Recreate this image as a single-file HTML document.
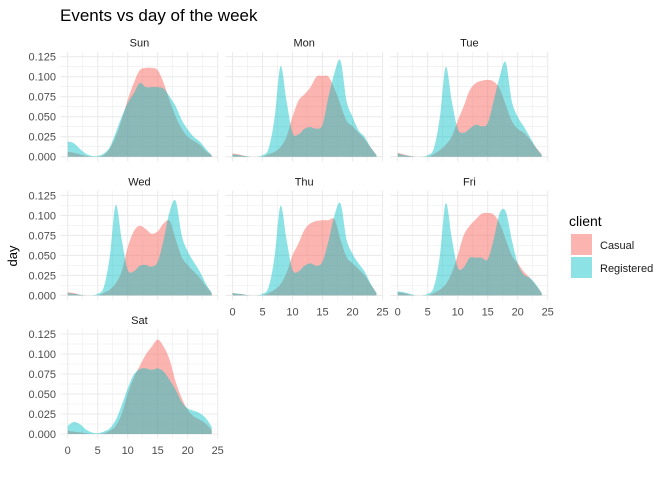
<!DOCTYPE html>
<html><head><meta charset="utf-8"><style>
body{margin:0;background:#fff;}
svg{display:block;font-family:"Liberation Sans",Arial,sans-serif;}
</style></head><body>
<svg id="c" width="672" height="480">
<text x="60" y="21" font-size="17" fill="#000">Events vs day of the week</text>
<text transform="translate(17,256) rotate(-90)" font-size="13" text-anchor="middle" fill="#000">day</text>
<g>
<text x="569" y="226" font-size="14" fill="#000">client</text>
<rect x="571" y="234" width="21" height="21" fill="rgba(248,118,109,0.55)"/>
<text x="600" y="249" font-size="11" fill="#1a1a1a">Casual</text>
<rect x="571" y="257" width="21" height="21" fill="rgba(0,191,196,0.45)"/>
<text x="600" y="272" font-size="11" fill="#1a1a1a">Registered</text>
</g>
</svg>
<script>
const days=["Sun","Mon","Tue","Wed","Thu","Fri","Sat"];
const hours=[0,1,2,3,4,5,6,7,8,9,10,11,12,13,14,15,16,17,18,19,20,21,22,23,24];
const yTicks=[0,0.025,0.05,0.075,0.1,0.125];
const yTickLabels=["0.000","0.025","0.050","0.075","0.100","0.125"];
const xTicks=[0,5,10,15,20,25];
const casualSun=[0.006,0.005,0.003,0.001,0,0,0.002,0.01,0.025,0.046,0.071,0.092,0.108,0.111,0.111,0.108,0.092,0.07,0.05,0.035,0.025,0.02,0.015,0.007,0.002];
const registeredSun=[0.019,0.017,0.01,0.004,0.001,0.001,0.004,0.012,0.03,0.05,0.067,0.079,0.092,0.087,0.087,0.087,0.085,0.075,0.063,0.046,0.034,0.025,0.019,0.01,0.002];
const casualMon=[0.004,0.003,0.001,0,0,0,0.003,0.006,0.012,0.025,0.05,0.07,0.078,0.087,0.1,0.101,0.1,0.085,0.065,0.045,0.038,0.03,0.022,0.012,0.002];
const registeredMon=[0.003,0.002,0.001,0,0,0.002,0.01,0.048,0.113,0.07,0.03,0.028,0.035,0.037,0.035,0.04,0.075,0.105,0.12,0.07,0.05,0.033,0.025,0.012,0.002];
const casualTue=[0.005,0.003,0.001,0,0,0,0.003,0.008,0.015,0.025,0.045,0.063,0.083,0.092,0.095,0.096,0.094,0.085,0.065,0.045,0.035,0.03,0.022,0.012,0.003];
const registeredTue=[0.004,0.002,0.001,0,0,0.002,0.01,0.048,0.112,0.07,0.035,0.03,0.035,0.04,0.038,0.042,0.07,0.1,0.118,0.07,0.05,0.038,0.025,0.012,0.002];
const casualWed=[0.004,0.003,0.001,0,0,0,0.003,0.007,0.015,0.03,0.06,0.08,0.087,0.083,0.077,0.08,0.09,0.093,0.07,0.048,0.038,0.03,0.022,0.012,0.003];
const registeredWed=[0.003,0.002,0.001,0,0,0.002,0.01,0.048,0.113,0.07,0.032,0.03,0.037,0.038,0.036,0.042,0.07,0.105,0.118,0.075,0.055,0.042,0.03,0.015,0.003];
const casualThu=[0.003,0.002,0.001,0,0,0,0.003,0.007,0.014,0.028,0.05,0.065,0.082,0.09,0.093,0.094,0.094,0.095,0.07,0.048,0.04,0.033,0.025,0.014,0.003];
const registeredThu=[0.003,0.002,0.001,0,0,0.002,0.01,0.048,0.112,0.07,0.032,0.03,0.037,0.04,0.037,0.042,0.068,0.1,0.115,0.07,0.052,0.04,0.03,0.015,0.003];
const casualFri=[0.004,0.003,0.001,0,0,0,0.003,0.007,0.014,0.028,0.05,0.075,0.087,0.095,0.102,0.103,0.101,0.09,0.07,0.05,0.04,0.03,0.022,0.013,0.003];
const registeredFri=[0.005,0.004,0.002,0,0,0.002,0.01,0.048,0.115,0.072,0.035,0.035,0.047,0.047,0.047,0.045,0.07,0.103,0.105,0.07,0.04,0.026,0.022,0.014,0.003];
const casualSat=[0.004,0.003,0.002,0.001,0,0,0.001,0.004,0.01,0.025,0.05,0.07,0.085,0.099,0.109,0.118,0.109,0.0925,0.065,0.045,0.03,0.022,0.018,0.013,0.005];
const registeredSat=[0.01,0.015,0.0125,0.006,0.002,0.001,0.003,0.007,0.0175,0.036,0.057,0.074,0.081,0.082,0.08,0.082,0.078,0.0675,0.055,0.04,0.032,0.029,0.026,0.02,0.009];
const casualAll=[casualSun,casualMon,casualTue,casualWed,casualThu,casualFri,casualSat];
const registeredAll=[registeredSun,registeredMon,registeredTue,registeredWed,registeredThu,registeredFri,registeredSat];

const svg=document.getElementById('c');
const NS="http://www.w3.org/2000/svg";
function mk(tag,attrs,parent){const e=document.createElementNS(NS,tag);for(const k in attrs)e.setAttribute(k,attrs[k]);(parent||svg).appendChild(e);return e;}
const colX0=[67.7,232.5,397.7];
const rowBase=[156.7,295.4,434];
const XS=6, YS=800;
function curvePath(xf,yf,vals,base){
  const p=hours.map((h,i)=>[xf(h),yf(vals[i])]);
  let d="M"+p[0][0]+","+base+" L"+p[0][0]+","+p[0][1];
  for(let i=0;i<p.length-1;i++){
    const p0=p[Math.max(0,i-1)],p1=p[i],p2=p[i+1],p3=p[Math.min(p.length-1,i+2)];
    const c1=[p1[0]+(p2[0]-p0[0])/6,p1[1]+(p2[1]-p0[1])/6];
    const c2=[p2[0]-(p3[0]-p1[0])/6,p2[1]-(p3[1]-p1[1])/6];
    c1[1]=Math.min(c1[1],base);c2[1]=Math.min(c2[1],base);
    d+=" C"+c1[0].toFixed(2)+","+c1[1].toFixed(2)+" "+c2[0].toFixed(2)+","+c2[1].toFixed(2)+" "+p2[0].toFixed(2)+","+p2[1].toFixed(2);
  }
  d+=" L"+p[p.length-1][0]+","+base+" Z";
  return d;
}
days.forEach((day,di)=>{
  const col=di%3,row=Math.floor(di/3);
  const x0=colX0[col],base=rowBase[row];
  const xf=h=>x0+h*XS, yf=v=>base-v*YS;
  const g=mk('g',{});
  
  
  const left=xf(-1.2),right=xf(25.1),top=yf(0.131),bot=yf(-0.006);
  for(let v=0.0125;v<0.13;v+=0.025) mk('line',{x1:left,x2:right,y1:yf(v),y2:yf(v),stroke:'#EBEBEB','stroke-width':0.55},g);
  for(let h=2.5;h<25;h+=5) mk('line',{x1:xf(h),x2:xf(h),y1:top,y2:bot,stroke:'#EBEBEB','stroke-width':0.55},g);
  yTicks.forEach(v=>mk('line',{x1:left,x2:right,y1:yf(v),y2:yf(v),stroke:'#EBEBEB','stroke-width':1.1},g));
  xTicks.forEach(h=>mk('line',{x1:xf(h),x2:xf(h),y1:top,y2:bot,stroke:'#EBEBEB','stroke-width':1.1},g));
  const st=mk('text',{x:(left+right)/2,y:base-110,'font-size':11,'text-anchor':'middle',fill:'#1a1a1a'},g);
  st.textContent=day;
  
  
  const a1=mk('path',{d:curvePath(xf,yf,casualAll[di],base),fill:'rgba(248,118,109,0.55)'},g);
  
  
  const a2=mk('path',{d:curvePath(xf,yf,registeredAll[di],base),fill:'rgba(0,191,196,0.45)'},g);
  
  
  if(col===0){
    yTicks.forEach((v,i)=>{const t=mk('text',{x:56,y:yf(v)+4,'font-size':11,'text-anchor':'end',fill:'#4D4D4D'},g);t.textContent=yTickLabels[i];
      
      });
  }
  if(di>=4){
    xTicks.forEach(h=>{const t=mk('text',{x:xf(h),y:base+20,'font-size':11,'text-anchor':'middle',fill:'#4D4D4D'},g);t.textContent=h;
      
      });
  }
});
</script>
</body></html>
